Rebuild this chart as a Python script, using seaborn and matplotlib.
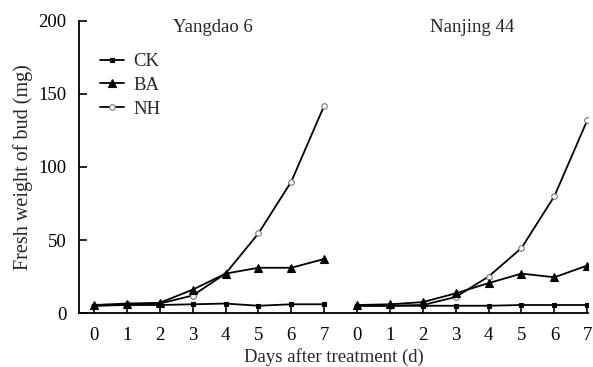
import numpy as np
import pandas as pd
import seaborn as sns
import matplotlib
matplotlib.use("Agg")
import matplotlib.pyplot as plt
from matplotlib.lines import Line2D

days = [0, 1, 2, 3, 4, 5, 6, 7]
panels = ["Yangdao 6", "Nanjing 44"]
treatments = ["CK", "BA", "NH"]

yd_ck = [5, 5.5, 5.5, 6, 6.5, 5, 6, 6]
yd_ba = [5.5, 6.5, 7, 16, 27, 31, 31, 37]
yd_nh = [5, 6, 6.5, 12, 27, 54.5, 90, 142]

nj_ck = [5, 5, 5, 5, 5, 5.5, 5.5, 5.5]
nj_ba = [5.5, 6, 7.5, 13.5, 20.5, 27, 24.5, 32.5]
nj_nh = [5, 5, 5.5, 11, 25, 44.5, 80, 132]

yticks = [0, 50, 100, 150, 200]

sns.set_theme(style="ticks")
plt.rcParams["font.family"] = ["Liberation Serif", "DejaVu Serif"]

rows = []
data = {"Yangdao 6": {"CK": yd_ck, "BA": yd_ba, "NH": yd_nh},
        "Nanjing 44": {"CK": nj_ck, "BA": nj_ba, "NH": nj_nh}}
for pi, p in enumerate(panels):
    for t in treatments:
        for d, v in zip(days, data[p][t]):
            rows.append({"panel": p, "treatment": t, "pos": d + 8 * pi, "value": v})
df = pd.DataFrame(rows)

fig = plt.figure(figsize=(5.93, 3.67), dpi=100)
ax = fig.add_axes([0.133, 0.147, 0.859, 0.796])

markers = {"CK": "s", "BA": "^", "NH": "o"}
sizes = {"CK": 3, "BA": 6, "NH": 4}
order = ["NH", "BA", "CK"]
for pi, p in enumerate(panels):
    sub = df[df.panel == p]
    for t in order:
        s = sub[sub.treatment == t]
        sns.lineplot(data=s, x="pos", y="value", ax=ax, color="black",
                     marker=markers[t], markersize=sizes[t],
                     markerfacecolor="white" if t == "NH" else "black",
                     markeredgecolor="#777777" if t == "NH" else "black",
                     markeredgewidth=0.8, linewidth=1.3, legend=False)

handles = [Line2D([], [], color="black", lw=1.3, marker=markers[t], markersize=sizes[t],
                  markerfacecolor="white" if t == "NH" else "black",
                  markeredgecolor="#777777" if t == "NH" else "black", markeredgewidth=0.8)
           for t in treatments]
leg = ax.legend(handles, treatments, loc="upper left", bbox_to_anchor=(0.015, 0.935),
                frameon=False, fontsize=13.5, handlelength=1.3, handletextpad=0.5,
                labelspacing=0.35, borderaxespad=0.3)

ax.set_xlim(-0.46, 15.03)
ax.set_ylim(0, 200)
ax.set_xticks(list(range(16)))
ax.set_xticklabels([str(d) for d in days] * 2)
ax.set_yticks(yticks)
ax.tick_params(direction="in", length=6, width=1.2, labelsize=13.5, colors="black")
ax.tick_params(axis="x", pad=10)
ax.tick_params(axis="y", pad=9)
for s in ["top", "right"]:
    ax.spines[s].set_visible(False)
for s in ["left", "bottom"]:
    ax.spines[s].set_linewidth(1.3)
    ax.spines[s].set_color("black")

ax.set_xlabel("Days after treatment (d)", fontsize=13.5, labelpad=3)
ax.set_ylabel("Fresh weight of bud (mg)", fontsize=14.5, labelpad=4)
ax.text(3.6, 201, panels[0], ha="center", va="top", fontsize=13.5)
ax.text(11.5, 201, panels[1], ha="center", va="top", fontsize=13.5)

fig.savefig("out.png", dpi=100)
